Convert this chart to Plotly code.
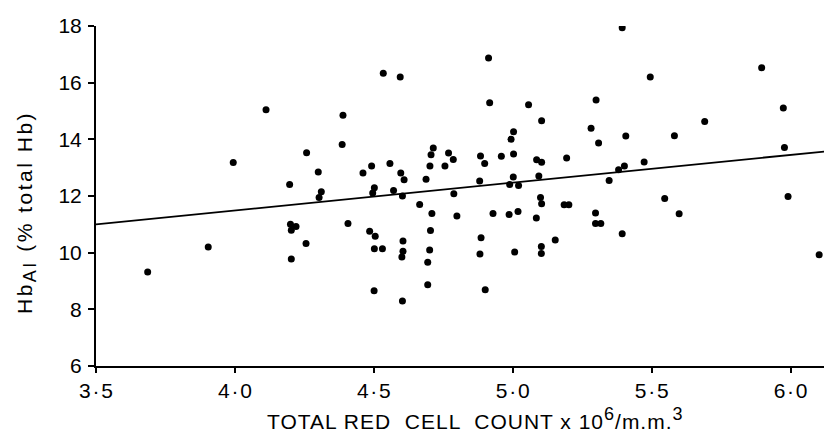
import plotly.graph_objects as go

# Data (x: red cell count x10^6/mm^3, y: HbA1 %)
rbc = [4.112, 4.258, 3.994, 4.300, 4.197, 4.311, 4.303, 4.200, 4.220, 4.203,
       4.256, 3.904, 4.203, 3.686,
       4.913, 4.534, 4.595, 4.917, 5.057, 4.389, 5.104, 5.003, 4.994, 4.386,
       4.714, 4.706, 4.769, 4.786, 4.884, 4.899, 4.959, 5.003, 5.086, 5.104,
       4.492, 4.558, 4.702, 4.756, 4.461, 4.597, 4.609, 4.688, 4.881, 5.094,
       5.002, 4.989, 5.021, 4.502, 4.496, 4.571, 4.603, 4.788, 4.665, 4.407,
       4.709, 4.799, 4.929, 4.987, 5.019, 5.085, 5.100, 5.104, 4.485, 4.505,
       4.502, 4.531, 4.605, 4.605, 4.601, 4.704, 4.701, 4.694, 4.886, 4.882,
       5.007, 5.103, 5.103, 5.153, 4.501, 4.603, 4.694, 4.901,
       5.394, 5.896, 5.495, 5.300, 5.974, 5.691, 5.282, 5.407, 5.582, 5.309,
       5.978, 5.194, 5.473, 5.402, 5.381, 5.347, 5.547, 5.991, 5.185, 5.202,
       5.599, 5.298, 5.298, 5.317, 5.394, 6.103, 6.178]
hba1 = [15.04, 13.53, 13.18, 12.85, 12.41, 12.15, 11.95, 11.00, 10.92, 10.79,
        10.32, 10.20, 9.78, 9.32,
        16.87, 16.33, 16.20, 15.29, 15.22, 14.85, 14.66, 14.27, 14.00, 13.82,
        13.69, 13.46, 13.52, 13.29, 13.41, 13.15, 13.40, 13.48, 13.28, 13.19,
        13.06, 13.15, 13.06, 13.06, 12.81, 12.81, 12.57, 12.59, 12.53, 12.71,
        12.67, 12.41, 12.37, 12.29, 12.11, 12.19, 12.00, 12.08, 11.70, 11.03,
        11.38, 11.29, 11.38, 11.35, 11.45, 11.22, 11.95, 11.73, 10.76, 10.58,
        10.14, 10.14, 10.41, 10.05, 9.85, 10.78, 10.09, 9.66, 10.53, 9.95,
        10.02, 10.22, 9.97, 10.45, 8.66, 8.29, 8.87, 8.69,
        17.94, 16.53, 16.20, 15.39, 15.11, 14.63, 14.39, 14.12, 14.13, 13.87,
        13.71, 13.34, 13.20, 13.06, 12.93, 12.55, 11.91, 11.98, 11.69, 11.69,
        11.37, 11.40, 11.03, 11.03, 10.67, 9.93, 13.02]

# Regression line
fit_x = [3.5, 6.2]
fit_intercept = 11.0   # value at x = 3.5
fit_slope = 0.98
fit_y = [fit_intercept + fit_slope * (x - 3.5) for x in fit_x]

x_ticks = [3.5, 4.0, 4.5, 5.0, 5.5, 6.0]
x_ticktext = ["3\u200a·\u200a5", "4\u200a·\u200a0", "4\u200a·\u200a5",
              "5\u200a·\u200a0", "5\u200a·\u200a5", "6\u200a·\u200a0"]
y_ticks = [6, 8, 10, 12, 14, 16, 18]

x_title = ('<span style="letter-spacing:1px">TOTAL RED  CELL  COUNT x 10'
           '<sup><span style="font-size:18px">6</span></sup>/m.m.'
           '<sup><span style="font-size:18px">3</span></sup></span>')
y_title = ('<span style="letter-spacing:2.5px">Hb<sub><span style="font-size:18px">AI</span></sub>'
           ' (% total Hb)</span>')

FONT = "Liberation Sans, Arial, Helvetica, sans-serif"
FS = 21

fig = go.Figure()
fig.add_trace(go.Scatter(x=fit_x, y=fit_y, mode="lines",
                         line=dict(color="black", width=1.8),
                         hoverinfo="skip", showlegend=False))
fig.add_trace(go.Scatter(x=rbc, y=hba1, mode="markers",
                         marker=dict(color="black", size=7),
                         showlegend=False))

axis_common = dict(showgrid=False, zeroline=False, showline=True,
                   linecolor="black", linewidth=2, ticks="outside",
                   tickwidth=1.5, tickcolor="black",
                   tickfont=dict(size=FS, family=FONT, color="black"))

fig.update_layout(
    width=832, height=433,
    margin=dict(l=88, r=0, t=18, b=75),
    paper_bgcolor="white", plot_bgcolor="white",
    font=dict(family=FONT, color="black", size=FS),
    xaxis=dict(range=[3.5, 6.178], tickvals=x_ticks, ticktext=x_ticktext,
               ticklen=5, **axis_common),
    yaxis=dict(range=[6, 18], tickvals=y_ticks, ticklen=6,
               ticklabelstandoff=2, **axis_common),
    annotations=[
        dict(text=x_title, xref="paper", yref="paper", x=0.51, y=0,
             xanchor="center", yanchor="middle", yshift=-52,
             showarrow=False, font=dict(size=FS, family=FONT, color="black")),
        dict(text=y_title, xref="paper", yref="paper", x=0, y=0.45,
             xanchor="center", yanchor="middle", xshift=-70, textangle=-90,
             showarrow=False, font=dict(size=FS, family=FONT, color="black")),
    ],
)

fig.write_html("out.html")
